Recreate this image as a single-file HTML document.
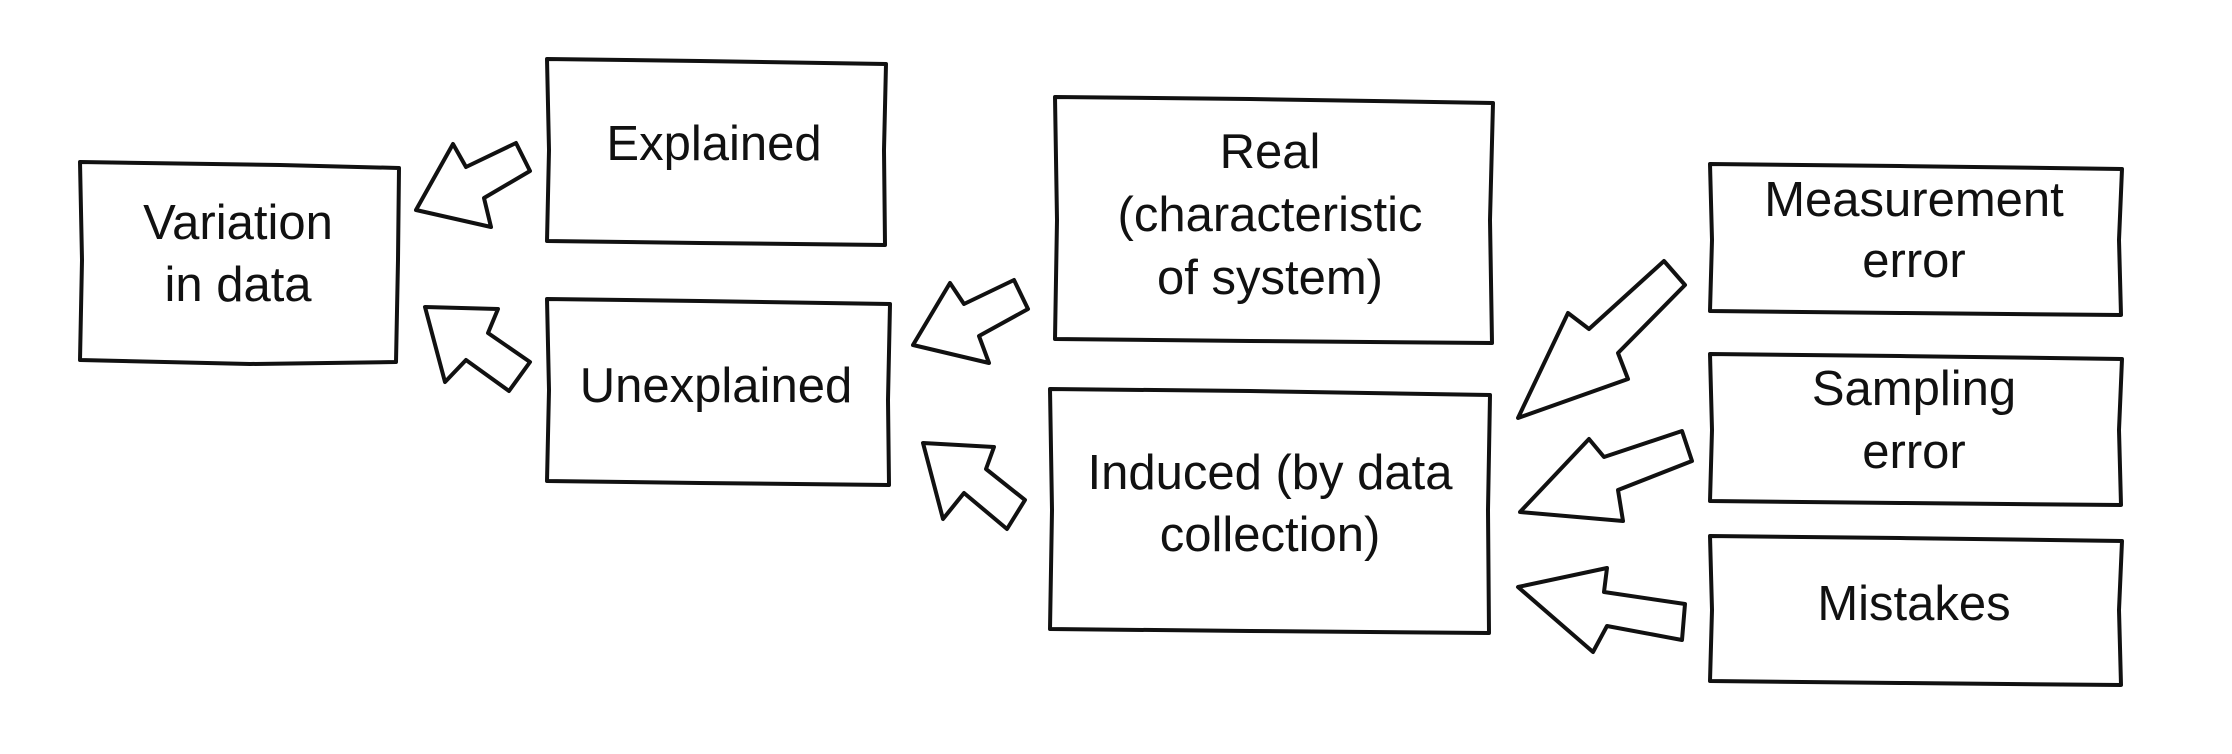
<!DOCTYPE html>
<html><head><meta charset="utf-8"><style>
html,body{margin:0;padding:0;background:#fff;width:2232px;height:754px;overflow:hidden}
text{font-family:"Liberation Sans",sans-serif;font-size:49px;fill:#111;text-anchor:middle;dominant-baseline:middle}
</style></head><body>
<svg width="2232" height="754" viewBox="0 0 2232 754" xmlns="http://www.w3.org/2000/svg">
<g fill="#fff" stroke="#111" stroke-width="4" stroke-linejoin="round">
<path d="M80,162 L280,165 L399,168 L398,260 L396,362 L250,364 L80,360 L82,260 Z"/>
<path d="M547,59 L700,61 L886,64 L884,150 L885,245 L700,243 L547,241 L549,150 Z"/>
<path d="M547,299 L700,301 L890,304 L888,400 L889,485 L700,483 L547,481 L549,390 Z"/>
<path d="M1055,97 L1250,99 L1493,103 L1490,220 L1492,343 L1250,341 L1055,339 L1057,220 Z"/>
<path d="M1050,389 L1250,391 L1490,395 L1488,510 L1489,633 L1250,631 L1050,629 L1052,510 Z"/>
<path d="M1710,164 L1900,166 L2122,169 L2119,240 L2121,315 L1900,313 L1710,311 L1712,240 Z"/>
<path d="M1710,354 L1900,356 L2122,359 L2119,430 L2121,505 L1900,503 L1710,501 L1712,430 Z"/>
<path d="M1710,536 L1900,538 L2122,541 L2119,610 L2121,685 L1900,683 L1710,681 L1712,610 Z"/>
<polygon points="416,210 453,144 466,167 516,143 530,171 484,198 491,227"/>
<polygon points="425,307 498,309 488,333 530,362 509,391 466,360 445,382"/>
<polygon points="913,345 950,283 964,304 1014,280 1028,309 979,336 989,363"/>
<polygon points="923,443 994,447 986,469 1025,500 1007,529 964,493 943,519"/>
<polygon points="1518,418 1568,313 1589,329 1664,261 1685,285 1618,353 1628,379"/>
<polygon points="1520,512 1589,439 1604,457 1682,431 1692,461 1618,490 1623,521"/>
<polygon points="1518,587 1607,568 1604,592 1685,604 1682,640 1607,626 1593,652"/>
</g>
<text x="238" y="226">Variation</text>
<text x="238" y="288">in data</text>
<text x="714" y="147">Explained</text>
<text x="716" y="389">Unexplained</text>
<text x="1270" y="155">Real</text>
<text x="1270" y="218">(characteristic</text>
<text x="1270" y="281">of system)</text>
<text x="1270" y="476">Induced (by data</text>
<text x="1270" y="538">collection)</text>
<text x="1914" y="203">Measurement</text>
<text x="1914" y="264">error</text>
<text x="1914" y="392">Sampling</text>
<text x="1914" y="455">error</text>
<text x="1914" y="607">Mistakes</text>
</svg>
</body></html>
